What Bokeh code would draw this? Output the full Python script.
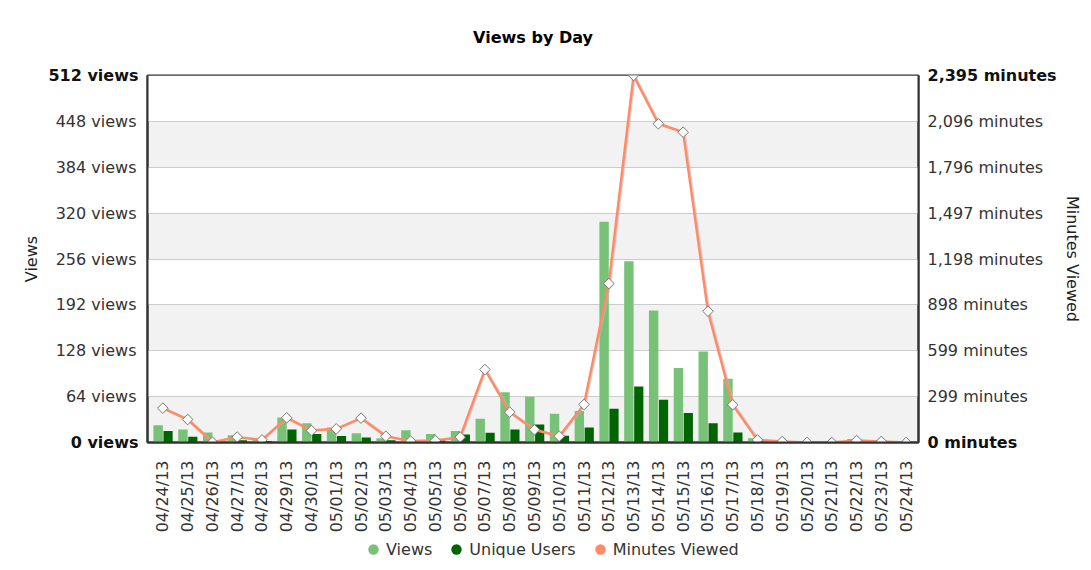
import math
from bokeh.plotting import figure
from bokeh.layouts import column
from bokeh.models import (Range1d, LinearAxis, FixedTicker, Legend,
                          LegendItem, ColumnDataSource)
from bokeh.transform import dodge
from bokeh.embed import file_html
from bokeh.resources import INLINE

# ---------------- data ----------------
dates = ["04/24/13", "04/25/13", "04/26/13", "04/27/13", "04/28/13", "04/29/13",
         "04/30/13", "05/01/13", "05/02/13", "05/03/13", "05/04/13", "05/05/13",
         "05/06/13", "05/07/13", "05/08/13", "05/09/13", "05/10/13", "05/11/13",
         "05/12/13", "05/13/13", "05/14/13", "05/15/13", "05/16/13", "05/17/13",
         "05/18/13", "05/19/13", "05/20/13", "05/21/13", "05/22/13", "05/23/13",
         "05/24/13"]
views = [24, 18, 14, 10, 4, 35, 27, 21, 13, 6, 17, 12, 16, 33, 70, 64, 40, 44,
         308, 253, 184, 104, 127, 89, 6, 3, 2, 2, 5, 3, 2]
users = [16, 8, 2, 3, 2, 18, 12, 9, 7, 3, 2, 3, 11, 13.5, 18, 25, 9.5, 21,
         47, 78, 59.5, 41, 27, 14, 2, 1, 1, 1, 2, 1, 1]
minutes = [224, 150, 2, 35, 17, 161, 78, 89, 159, 41, 9, 13, 35, 476, 198, 83,
           41, 248, 1037, 2395, 2080, 2025, 857, 246, 17, 7, 0, 0, 13, 7, 0]

view_ticks = [0, 64, 128, 192, 256, 320, 384, 448, 512]
view_tick_labels = ["0 views", "64 views", "128 views", "192 views", "256 views",
                    "320 views", "384 views", "448 views", "512 views"]
minute_max = 2395
minute_tick_labels = ["0 minutes", "299 minutes", "599 minutes", "898 minutes",
                      "1,198 minutes", "1,497 minutes", "1,796 minutes",
                      "2,096 minutes", "2,395 minutes"]

# ---------------- styling ----------------
FONT = "DejaVu Sans"
FS = "16px"
TXT = "#333333"
C_VIEWS = "#78c278"
C_USERS = "#006400"
C_MIN = "#ff8a65"

n = len(dates)
src = ColumnDataSource(dict(x=list(range(n)), date=dates, views=views,
                            users=users, minutes=minutes))

p = figure(width=1085, height=536, output_backend="svg", toolbar_location=None,
           x_range=Range1d(-0.62, n - 0.5), y_range=Range1d(0, view_ticks[-1]),
           min_border_left=147, min_border_right=166, min_border_top=75,
           min_border_bottom=94, title="Views by Day",
           background_fill_color="#f2f2f2", border_fill_color="white")
p.extra_y_ranges = {"minutes": Range1d(0, minute_max)}

p.title.align = "center"
p.title.vertical_align = "top"
p.title.text_font = FONT
p.title.text_font_size = FS
p.title.text_font_style = "bold"
p.title.text_color = "#000000"
p.title.standoff = 53

p.outline_line_color = "#333333"
p.outline_line_width = 2

# x axis
xa = p.xaxis[0]
xa.ticker = FixedTicker(ticks=list(range(n)))
xa.major_label_overrides = {i: d for i, d in enumerate(dates)}
xa.major_label_orientation = math.pi / 2
xa.axis_line_color = "#333333"
xa.axis_line_width = 2
xa.major_tick_line_color = None
xa.minor_tick_line_color = None
xa.major_label_standoff = 12
xa.major_label_text_font = FONT
xa.major_label_text_font_size = FS
xa.major_label_text_color = TXT

common = dict(major_tick_line_color=None, minor_tick_line_color=None,
              major_label_text_font=FONT, major_label_text_font_size=FS)

# left: inner axis with the bold end labels
ya = p.yaxis[0]
ya.ticker = FixedTicker(ticks=[view_ticks[0], view_ticks[-1]])
ya.major_label_overrides = {view_ticks[0]: view_tick_labels[0],
                            view_ticks[-1]: view_tick_labels[-1]}
ya.axis_line_color = "#333333"
ya.axis_line_width = 2
ya.major_tick_line_color = None
ya.minor_tick_line_color = None
ya.major_label_standoff = 3
ya.major_label_text_font = FONT
ya.major_label_text_font_size = FS
ya.major_label_text_font_style = "bold"
ya.major_label_text_color = "#111111"

# left: outer axis with the normal labels, pulled back next to the frame
yn = LinearAxis(ticker=FixedTicker(ticks=view_ticks[1:-1]),
                major_label_overrides={t: l for t, l in zip(view_ticks[1:-1],
                                                            view_tick_labels[1:-1])},
                axis_line_color=None, major_label_standoff=-97,
                major_label_text_color=TXT, axis_label="Views",
                axis_label_text_font=FONT, axis_label_text_font_size=FS,
                axis_label_text_font_style="normal", axis_label_text_color="#222222",
                axis_label_standoff=12, **common)
p.add_layout(yn, "left")

# right: inner axis with the bold end labels
minute_tick_pos = [minute_max * t / view_ticks[-1] for t in view_ticks]
rb = LinearAxis(y_range_name="minutes",
                ticker=FixedTicker(ticks=[minute_tick_pos[0], minute_tick_pos[-1]]),
                major_label_overrides={minute_tick_pos[0]: minute_tick_labels[0],
                                       minute_tick_pos[-1]: minute_tick_labels[-1]},
                axis_line_color="#333333", axis_line_width=2,
                major_label_standoff=3, major_label_text_font_style="bold",
                major_label_text_color="#111111", **common)
p.add_layout(rb, "right")

# right: outer axis with the normal labels, pulled back next to the frame
rn = LinearAxis(y_range_name="minutes",
                ticker=FixedTicker(ticks=minute_tick_pos[1:-1]),
                major_label_overrides={t: l for t, l in zip(minute_tick_pos[1:-1],
                                                            minute_tick_labels[1:-1])},
                axis_line_color=None, major_label_standoff=-138,
                major_label_text_color=TXT, axis_label="Minutes Viewed",
                axis_label_text_font=FONT, axis_label_text_font_size=FS,
                axis_label_text_font_style="normal", axis_label_text_color="#222222",
                axis_label_standoff=17, **common)
p.add_layout(rn, "right")

# grid / bands
p.xgrid.visible = False
g = p.ygrid[0]
g.ticker = FixedTicker(ticks=view_ticks)
g.grid_line_color = "#cccccc"
g.grid_line_width = 1
g.band_fill_color = "white"
g.band_fill_alpha = 1.0

# bars
p.vbar(x=dodge("x", -0.19), top="views", width=0.38, source=src,
       fill_color=C_VIEWS, line_color=None)
p.vbar(x=dodge("x", 0.21), top="users", width=0.37, source=src,
       fill_color=C_USERS, line_color=None)

# minutes line
p.line(x=dodge("x", 0.07), y="minutes", source=src, y_range_name="minutes",
       line_color="#bbbbbb", line_width=1.5, line_alpha=0.6)
p.line(x="x", y="minutes", source=src, y_range_name="minutes",
       line_color=C_MIN, line_width=2.5)
p.scatter(x="x", y="minutes", source=src, y_range_name="minutes",
          marker="square", angle=math.pi / 4, size=7.5, fill_color="white",
          line_color="#777777", line_width=1)

# ---------------- legend strip (separate figure under the chart) ----------------
lg = figure(width=1085, height=34, output_backend="svg", toolbar_location=None,
            x_axis_type=None, y_axis_type=None, min_border=0,
            outline_line_color=None, background_fill_color="white",
            border_fill_color="white")
lg.grid.visible = False
lv = lg.scatter(x="x", y="views", source=src, marker="circle", size=0,
                fill_color=C_VIEWS, line_color=None)
lu = lg.scatter(x="x", y="users", source=src, marker="circle", size=0,
                fill_color=C_USERS, line_color=None)
lm = lg.scatter(x="x", y="minutes", source=src, marker="circle", size=0,
                fill_color=C_MIN, line_color=None)

legend = Legend(items=[LegendItem(label="Views", renderers=[lv]),
                       LegendItem(label="Unique Users", renderers=[lu]),
                       LegendItem(label="Minutes Viewed", renderers=[lm])],
                location=(213, 8), orientation="horizontal",
                glyph_width=26, glyph_height=26, label_standoff=-9, spacing=11,
                padding=0, margin=0, border_line_color=None,
                background_fill_alpha=0, label_text_font=FONT,
                label_text_font_size=FS, label_text_color=TXT)
lg.add_layout(legend, "center")

page = column(p, lg, spacing=0)
open("out.html", "w").write(file_html(page, INLINE))
